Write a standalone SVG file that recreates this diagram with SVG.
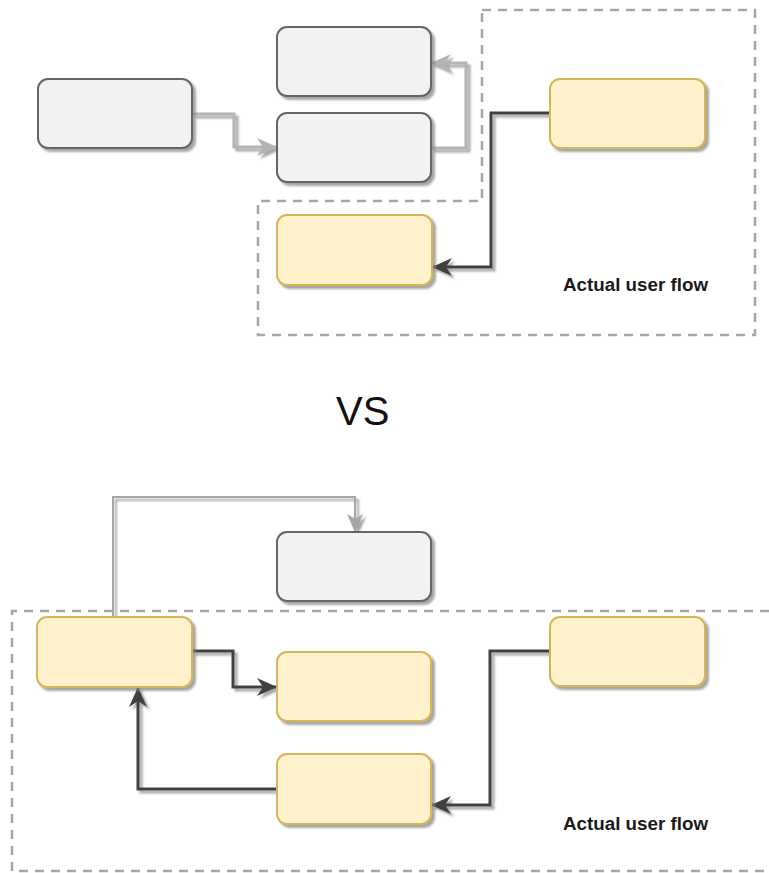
<svg xmlns="http://www.w3.org/2000/svg" width="769" height="873" viewBox="0 0 769 873">
<style>
.gray{fill:#f2f2f2;stroke:#666;stroke-width:2}
.yel{fill:#fff2cc;stroke:#d6b656;stroke-width:2}
.region{fill:none;stroke:#a6a6a6;stroke-width:2.5;stroke-dasharray:9 7}
.cl{fill:none;stroke:#b3b3b3;stroke-width:3}
.cthin{fill:none;stroke:#a6a6a6;stroke-width:2}
.cd{fill:none;stroke:#404040;stroke-width:3}
.lbl{font-family:"Liberation Sans",Arial,sans-serif;font-size:18px;font-weight:bold;fill:#1a1a1a}
.vs{font-family:"Liberation Sans",Arial,sans-serif;font-size:40px;fill:#111}
</style>
<defs>
<filter id="sh" x="-10%" y="-10%" width="130%" height="140%">
<feDropShadow dx="3" dy="3" stdDeviation="1" flood-color="#808080" flood-opacity="0.7"/>
</filter>
<marker id="ag" markerUnits="userSpaceOnUse" markerWidth="24" markerHeight="22" refX="20" refY="9" orient="auto">
<path d="M0,0 L20,9 L0,18 L6,9 Z" fill="#b3b3b3"/>
</marker>
<marker id="ag2" markerUnits="userSpaceOnUse" markerWidth="22" markerHeight="20" refX="18" refY="8" orient="auto">
<path d="M0,0 L18,8 L0,16 L5,8 Z" fill="#a6a6a6"/>
</marker>
<marker id="ad" markerUnits="userSpaceOnUse" markerWidth="24" markerHeight="22" refX="20" refY="9" orient="auto">
<path d="M0,0 L20,9 L0,18 L6,9 Z" fill="#404040"/>
</marker>
</defs>

<g id="region-top"><path class="region" d="M482,10 H755 V335 H258 V201 H482 Z"/></g>
<g id="region-bottom"><path class="region" d="M769,611 H12 V871 H769"/></g>

<g id="connectors" filter="url(#sh)">
<path class="cl" d="M192,114 H234 V147 H277" marker-end="url(#ag)"/>
<path class="cl" d="M431,148 H466 V63 H431" marker-end="url(#ag)"/>
<path class="cd" d="M550,113 H491 V267 H432" marker-end="url(#ad)"/>
<path class="cthin" d="M113,617 V497 H355 V532" marker-end="url(#ag2)"/>
<path class="cd" d="M192,651 H233 V687 H277" marker-end="url(#ad)"/>
<path class="cd" d="M277,789 H138 V687" marker-end="url(#ad)"/>
<path class="cd" d="M550,651 H490 V805 H431" marker-end="url(#ad)"/>
</g>

<g id="nodeA" filter="url(#sh)"><rect class="gray" x="38" y="79" width="154" height="69" rx="10"/></g>
<g id="nodeB" filter="url(#sh)"><rect class="gray" x="277" y="27" width="154" height="69" rx="10"/></g>
<g id="nodeC" filter="url(#sh)"><rect class="gray" x="277" y="113" width="154" height="69" rx="10"/></g>
<g id="nodeD" filter="url(#sh)"><rect class="yel" x="550" y="79" width="155" height="69" rx="10"/></g>
<g id="nodeE" filter="url(#sh)"><rect class="yel" x="277" y="215" width="155" height="70" rx="10"/></g>
<g id="label-top"><text class="lbl" x="563" y="291" textLength="145" lengthAdjust="spacingAndGlyphs">Actual user flow</text></g>

<g id="vs"><text class="vs" x="336" y="425">VS</text></g>

<g id="nodeF" filter="url(#sh)"><rect class="gray" x="277" y="532" width="154" height="69" rx="10"/></g>
<g id="nodeG" filter="url(#sh)"><rect class="yel" x="37" y="617" width="155" height="70" rx="10"/></g>
<g id="nodeH" filter="url(#sh)"><rect class="yel" x="277" y="652" width="154" height="69" rx="10"/></g>
<g id="nodeI" filter="url(#sh)"><rect class="yel" x="277" y="754" width="154" height="70" rx="10"/></g>
<g id="nodeJ" filter="url(#sh)"><rect class="yel" x="550" y="617" width="155" height="69" rx="10"/></g>
<g id="label-bottom"><text class="lbl" x="563" y="830" textLength="145" lengthAdjust="spacingAndGlyphs">Actual user flow</text></g>
</svg>
